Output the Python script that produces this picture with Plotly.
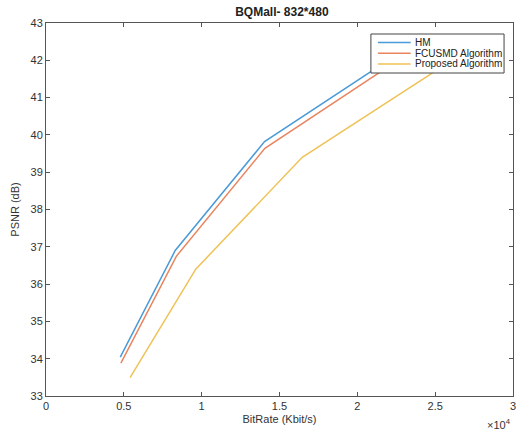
import plotly.graph_objects as go

# Data (bitrate in kbit/s, PSNR in dB)
series_names = ["HM", "FCUSMD Algorithm", "Proposed Algorithm"]
hm_rate = [4770, 8300, 14040, 21600]
hm_psnr = [34.04, 36.90, 39.82, 41.90]
fc_rate = [4810, 8380, 14060, 21700]
fc_psnr = [33.88, 36.75, 39.64, 41.75]
pr_rate = [5400, 9620, 16460, 25600]
pr_psnr = [33.49, 36.40, 39.40, 41.87]

x_tickvals = [0, 5000, 10000, 15000, 20000, 25000, 30000]
x_ticktext = ["0", "0.5", "1", "1.5", "2", "2.5", "3"]
y_tickvals = list(range(33, 44))

colors = ["#4a9ad8", "#e9845f", "#efc257"]

fig = go.Figure()
for name, xs, ys, c in zip(series_names, [hm_rate, fc_rate, pr_rate],
                           [hm_psnr, fc_psnr, pr_psnr], colors):
    fig.add_trace(go.Scatter(x=xs, y=ys, mode="lines", name=name, showlegend=False,
                             line=dict(color=c, width=1.5)))

axis_common = dict(showgrid=False, zeroline=False, showline=True, linecolor="#555555",
                   linewidth=1, mirror="ticks", ticks="inside", ticklen=4,
                   tickcolor="#555555", tickfont=dict(size=11, color="#333333",
                                                      family="Liberation Sans, Arial"))

fig.update_layout(
    width=522, height=432,
    margin=dict(l=46, r=6, t=23, b=36),
    paper_bgcolor="white", plot_bgcolor="white",
    font=dict(family="Liberation Sans, Arial", color="#333333"),
    title=dict(text="<b>BQMall- 832*480</b>", x=0.54, xanchor="center", y=0.972,
               yanchor="middle", font=dict(size=12, color="#222222")),
    xaxis=dict(range=[0, 30000], tickvals=x_tickvals, ticktext=x_ticktext,
               title=dict(text="BitRate (Kbit/s)", standoff=4,
                          font=dict(size=11, color="#333333")), **axis_common),
    yaxis=dict(range=[33, 43], tickvals=y_tickvals,
               title=dict(text="PSNR (dB)", standoff=8,
                          font=dict(size=11, color="#333333")), **axis_common),
    showlegend=False,
)

# Legend box (MATLAB style), in paper coordinates
plot_l, plot_r, plot_t, plot_b = 46, 516, 23, 396
def px_x(p):
    return (p - plot_l) / (plot_r - plot_l)
def px_y(p):
    return (plot_b - p) / (plot_b - plot_t)

fig.add_shape(type="rect", xref="paper", yref="paper",
              x0=px_x(373), x1=px_x(507), y0=px_y(73), y1=px_y(34),
              fillcolor="white", line=dict(color="#444444", width=1), layer="above")
legend_rows = [42.5, 53.3, 64.0]
for name, c, ry in zip(series_names, colors, legend_rows):
    fig.add_shape(type="line", xref="paper", yref="paper",
                  x0=px_x(380), x1=px_x(413), y0=px_y(ry), y1=px_y(ry),
                  line=dict(color=c, width=1.5), layer="above")
    fig.add_annotation(text=name, xref="paper", yref="paper", x=px_x(415), y=px_y(ry),
                       xanchor="left", yanchor="middle", showarrow=False,
                       font=dict(size=10, color="#222222"))

fig.add_annotation(text="×10<sup>4</sup>", xref="paper", yref="paper", x=1.0, y=px_y(415),
                   xanchor="right", yanchor="top", showarrow=False,
                   font=dict(size=11, color="#333333"))

fig.write_html("out.html")
